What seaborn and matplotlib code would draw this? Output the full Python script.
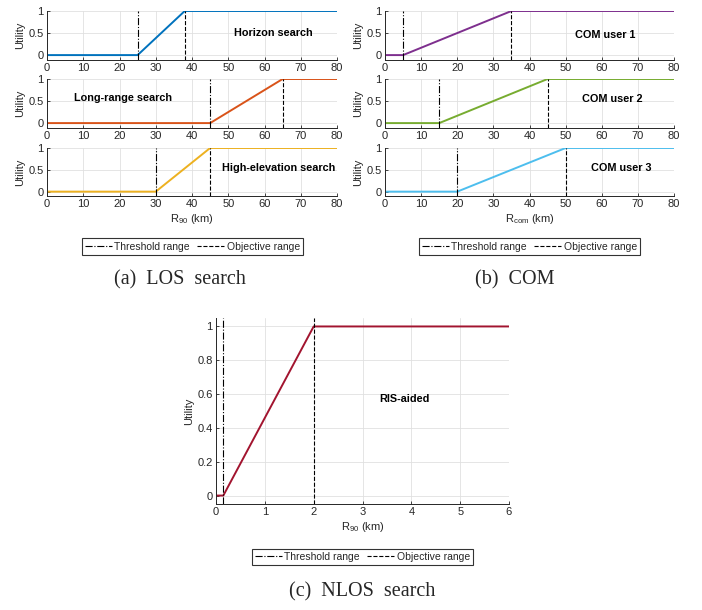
import pandas as pd
import matplotlib.pyplot as plt
import seaborn as sns
from matplotlib.lines import Line2D

sns.set_theme(style="whitegrid")
plt.rcParams['font.family'] = ['Liberation Sans', 'DejaVu Sans']
plt.rcParams['mathtext.fontset'] = 'custom'
plt.rcParams['mathtext.rm'] = 'Liberation Sans'
plt.rcParams['mathtext.it'] = 'Liberation Sans:italic'

# --- data ---
los_names = ['Horizon search', 'Long-range search', 'High-elevation search']
los_threshold = [25, 45, 30]      # km
los_objective = [38, 65, 45]      # km
los_colors = ['#0072BD', '#D95319', '#EDB120']
los_label_pos = [(62.5, 0.5), (21, 0.57), (64, 0.55)]

com_names = ['COM user 1', 'COM user 2', 'COM user 3']
com_threshold = [5, 15, 20]
com_objective = [35, 45, 50]
com_colors = ['#7E2F8E', '#77AC30', '#4DBEEE']
com_label_pos = [(61, 0.45), (63, 0.55), (65.5, 0.55)]

nlos_name = 'RIS-aided'
nlos_threshold = 0.15
nlos_objective = 2
nlos_color = '#A2142F'
nlos_label_pos = (3.85, 0.57)

W, H = 702, 610
TXT = '#262626'
GRID = '#e0e0e0'
FS = 8


def px_axes(fig, left, top, right, bottom):
    return fig.add_axes([left / W, 1 - bottom / H, (right - left) / W, (bottom - top) / H])


def utility_df(thr, obj, xmax):
    return pd.DataFrame({'x': [0, thr, obj, xmax], 'y': [0, 0, 1, 1]})


def style_ax(ax, xlim, ylim, xticks, yticks, yticklabels):
    ax.set_xlim(*xlim)
    ax.set_ylim(*ylim)
    ax.set_xticks(xticks)
    ax.set_yticks(yticks)
    ax.set_yticklabels(yticklabels)
    ax.grid(True, color=GRID, linewidth=0.6)
    ax.set_facecolor('white')
    for s in ['top', 'right']:
        ax.spines[s].set_visible(False)
    for s in ['left', 'bottom']:
        ax.spines[s].set_color(TXT)
        ax.spines[s].set_linewidth(0.7)
    ax.tick_params(axis='both', direction='in', length=2.5, width=0.6,
                   colors=TXT, labelsize=FS, pad=2.5, left=True, bottom=True)
    ax.set_ylabel('Utility', fontsize=FS, color=TXT, labelpad=2)
    ax.set_xlabel('')


def draw_panel(ax, thr, obj, xmax, color, name, pos, xlim, ylim, xticks, yticks, yticklabels):
    df = utility_df(thr, obj, xmax)
    sns.lineplot(data=df, x='x', y='y', ax=ax, color=color, linewidth=1.4,
                 sort=False, estimator=None)
    ax.axvline(thr, color='black', linestyle='-.', linewidth=0.8)
    ax.axvline(obj, color='black', linestyle='--', linewidth=0.8)
    ax.text(pos[0], pos[1], name, ha='center', va='center', fontsize=7.8,
            fontweight='bold', color='black')
    style_ax(ax, xlim, ylim, xticks, yticks, yticklabels)


fig = plt.figure(figsize=(W / 100, H / 100), dpi=100)

panel_rows = [(11, 59.5), (79, 127.5), (148, 196)]
top_xticks = list(range(0, 81, 10))
top_ylim = (-0.1, 1.0)

for i, (t, b) in enumerate(panel_rows):
    ax = px_axes(fig, 47, t, 337, b)
    draw_panel(ax, los_threshold[i], los_objective[i], 80, los_colors[i], los_names[i],
               los_label_pos[i], (0, 80), top_ylim, top_xticks, [0, 0.5, 1], ['0', '0.5', '1'])
    if i == 2:
        ax.set_xlabel(r'R$_{90}$ (km)', fontsize=FS, color=TXT, labelpad=2)

    ax = px_axes(fig, 385, t, 674, b)
    draw_panel(ax, com_threshold[i], com_objective[i], 80, com_colors[i], com_names[i],
               com_label_pos[i], (0, 80), top_ylim, top_xticks, [0, 0.5, 1], ['0', '0.5', '1'])
    if i == 2:
        ax.set_xlabel(r'R$_{\mathrm{com}}$ (km)', fontsize=FS, color=TXT, labelpad=2)

ax = px_axes(fig, 216, 318, 509, 504)
draw_panel(ax, nlos_threshold, nlos_objective, 6, nlos_color, nlos_name, nlos_label_pos,
           (0, 6), (-0.05, 1.05), list(range(0, 7)), [0, 0.2, 0.4, 0.6, 0.8, 1],
           ['0', '0.2', '0.4', '0.6', '0.8', '1'])
ax.set_xlabel(r'R$_{90}$ (km)', fontsize=FS, color=TXT, labelpad=2)

# legends
handles = [Line2D([], [], color='black', linestyle='-.', linewidth=0.8),
           Line2D([], [], color='black', linestyle='--', linewidth=0.8)]
labels = ['Threshold range', 'Objective range']
for cx, cy in [(192.5, 246.5), (529.5, 246.5), (362.5, 557)]:
    leg = fig.legend(handles, labels, loc='center', bbox_to_anchor=(cx / W, 1 - cy / H),
                     ncol=2, fontsize=7.5, frameon=True, fancybox=False,
                     handlelength=2.6, handletextpad=0.25, columnspacing=0.7,
                     borderpad=0.3, borderaxespad=0)
    leg.get_frame().set_edgecolor('black')
    leg.get_frame().set_linewidth(0.8)
    for t in leg.get_texts():
        t.set_color(TXT)

# captions
cap_kw = dict(ha='center', va='center', fontsize=14.5, family=['Liberation Serif', 'DejaVu Serif'])
fig.text(180 / W, 1 - 280 / H, '(a)  LOS  search', **cap_kw)
fig.text(515 / W, 1 - 280 / H, '(b)  COM', **cap_kw)
fig.text(362 / W, 1 - 592 / H, '(c)  NLOS  search', **cap_kw)

fig.savefig('out.png', dpi=100)
